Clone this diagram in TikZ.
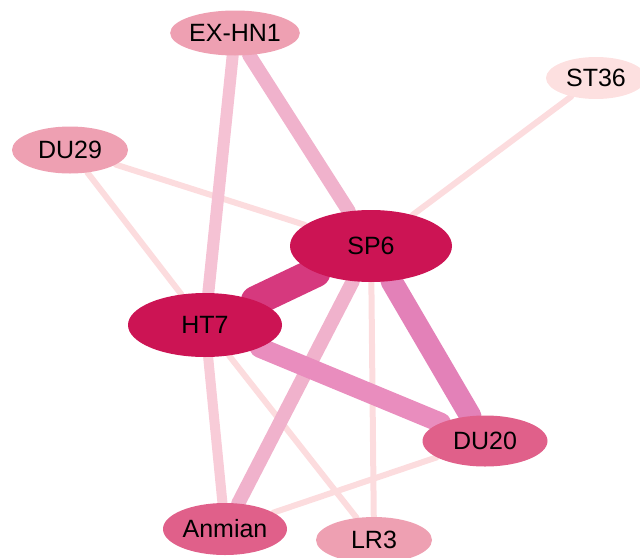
\documentclass[tikz,border=0pt]{standalone}
\usepackage{fontspec}
\setmainfont{Liberation Sans}
\usetikzlibrary{shapes.geometric}
\definecolor{hub}{RGB}{204,20,84}
\definecolor{mid}{RGB}{224,96,138}
\definecolor{soft}{RGB}{238,160,178}
\definecolor{pale}{RGB}{253,224,224}
\definecolor{eA}{RGB}{214,57,126}
\definecolor{eB}{RGB}{227,129,184}
\definecolor{eC}{RGB}{233,141,190}
\definecolor{eD}{RGB}{240,178,204}
\definecolor{eE}{RGB}{245,194,212}
\definecolor{eF}{RGB}{248,204,216}
\definecolor{eG}{RGB}{252,220,222}
\pgfdeclarelayer{bg}
\pgfsetlayers{bg,main}
\tikzset{
  pt/.style={ellipse, inner sep=0pt, font=\fontsize{25}{29}\selectfont, text=black},
  link/.style={line cap=round, line width=#1},
}
\begin{document}
\begin{tikzpicture}[x=1pt, y=-1pt]
\useasboundingbox (0,0) rectangle (640,557);
% acupoint nodes
\node[pt, fill=soft, minimum width=116pt, minimum height=45pt] (ex) at (235,33) {EX-HN1};
\node[pt, fill=pale, minimum width=100pt, minimum height=42pt] (st) at (596,78) {ST36};
\node[pt, fill=soft, minimum width=116pt, minimum height=47pt] (du29) at (70,150) {DU29};
\node[pt, fill=hub, minimum width=162pt, minimum height=72pt] (sp) at (371,246) {SP6};
\node[pt, fill=hub, minimum width=154pt, minimum height=64pt] (ht) at (205,325) {HT7};
\node[pt, fill=mid, minimum width=125pt, minimum height=51pt] (du20) at (485,441) {DU20};
\node[pt, fill=mid, minimum width=124pt, minimum height=52pt] (an) at (225,529) {Anmian};
\node[pt, fill=soft, minimum width=116pt, minimum height=46pt] (lr) at (374,540) {LR3};
% weighted co-occurrence links, behind the nodes
\begin{pgfonlayer}{bg}
\draw[link=6pt, eG] (du29) -- (sp);
\draw[link=6pt, eG] (du29) -- (ht);
\draw[link=6pt, eG] (st) -- (sp);
\draw[link=6pt, eG] (sp) -- (lr);
\draw[link=6pt, eG] (ht) -- (lr);
\draw[link=6pt, eG] (an) -- (du20);
\draw[link=10pt, eF] (ht) -- (an);
\draw[link=12pt, eE] (ex) -- (ht);
\draw[link=14pt, eD] (ex) -- (sp);
\draw[link=14pt, eD] (sp) -- (an);
\draw[link=20pt, eC] (ht) -- (du20);
\draw[link=22pt, eB] (sp) -- (du20);
\draw[link=30pt, eA] (sp) -- (ht);
\end{pgfonlayer}
\end{tikzpicture}
\end{document}
